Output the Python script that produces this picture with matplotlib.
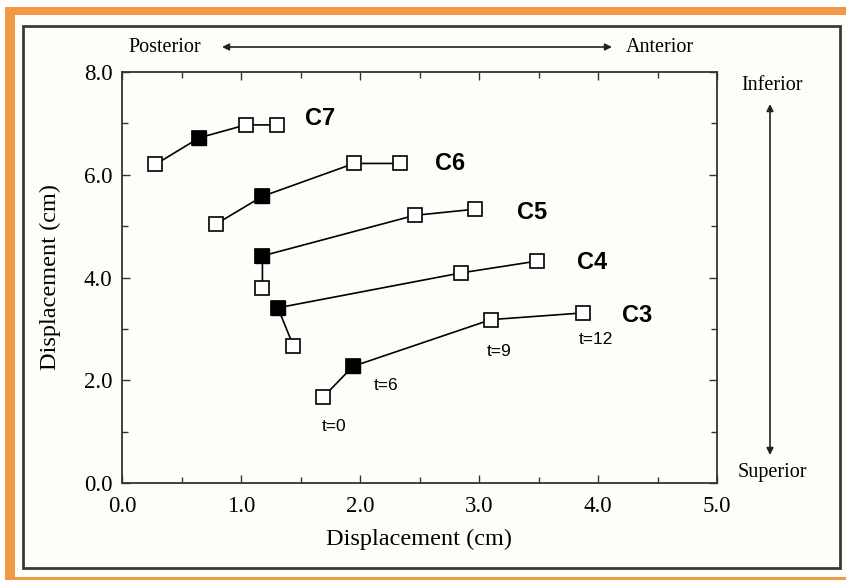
import numpy as np
import matplotlib
matplotlib.use('Agg')
import matplotlib.pyplot as plt
from matplotlib.patches import Rectangle
from matplotlib.ticker import MultipleLocator, FormatStrFormatter

# vertebra paths, points at t=0, 6, 9, 12 (filled marker = t=6)
levels = ['C7', 'C6', 'C5', 'C4', 'C3']
x_vals = [
    [0.28, 0.65, 1.04, 1.30],
    [0.79, 1.18, 1.95, 2.34],
    [1.18, 1.18, 2.46, 2.97],
    [1.44, 1.31, 2.85, 3.49],
    [1.69, 1.94, 3.10, 3.87],
]
y_vals = [
    [6.20, 6.72, 6.97, 6.97],
    [5.04, 5.58, 6.22, 6.22],
    [3.80, 4.42, 5.21, 5.33],
    [2.67, 3.41, 4.09, 4.32],
    [1.67, 2.27, 3.18, 3.31],
]
filled_idx = 1

label_x = [1.54, 2.63, 3.32, 3.82, 4.20]
label_y = [7.10, 6.21, 5.27, 4.30, 3.27]

t_labels = ['t=0', 't=6', 't=9', 't=12']
t_x = [1.78, 2.22, 3.17, 3.98]
t_y = [1.10, 1.90, 2.55, 2.80]

W, H = 846, 580
fig = plt.figure(figsize=(W / 100, H / 100), dpi=100, facecolor='white')


def fx(px):
    return px / W


def fy(py):
    return 1 - py / H


# orange border and frame (behind the axes)
fig.patches.append(Rectangle((fx(5), 0), 1, fy(7), transform=fig.transFigure,
                             facecolor='#f39847', edgecolor='none', zorder=-3))
fig.patches.append(Rectangle((fx(15), fy(577)), 1, fy(15) - fy(577),
                             transform=fig.transFigure, facecolor='#fdfdf9',
                             edgecolor='none', zorder=-2))
fig.patches.append(Rectangle((fx(23), fy(568)), fx(840) - fx(23), fy(26) - fy(568),
                             transform=fig.transFigure, facecolor='none',
                             edgecolor='#3a3a3a', linewidth=2.0, zorder=-1))

ax = fig.add_axes([fx(122), fy(483), fx(717) - fx(122), fy(72) - fy(483)])
ax.set_facecolor('none')

for xs, ys in zip(x_vals, y_vals):
    ax.plot(xs, ys, color='black', linewidth=1.2, zorder=2)
    ax.plot(xs, ys, linestyle='none', marker='s', markersize=9.5,
            markerfacecolor='white', markeredgecolor='black',
            markeredgewidth=1.2, zorder=3)
    ax.plot(xs[filled_idx], ys[filled_idx], linestyle='none', marker='s',
            markersize=9.5, markerfacecolor='black', markeredgecolor='black',
            zorder=4)

for name, lx, ly in zip(levels, label_x, label_y):
    ax.text(lx, ly, name, fontsize=17, fontweight='bold',
            family='Liberation Sans', va='center', ha='left')

for lab, tx, ty in zip(t_labels, t_x, t_y):
    ax.text(tx, ty, lab, fontsize=12.5, family='Liberation Sans',
            va='center', ha='center')

serif = 'Liberation Serif'
ax.set_xlim(0, 5)
ax.set_ylim(0, 8)
ax.xaxis.set_major_locator(MultipleLocator(1.0))
ax.xaxis.set_minor_locator(MultipleLocator(0.5))
ax.yaxis.set_major_locator(MultipleLocator(2.0))
ax.yaxis.set_minor_locator(MultipleLocator(1.0))
ax.xaxis.set_major_formatter(FormatStrFormatter('%.1f'))
ax.yaxis.set_major_formatter(FormatStrFormatter('%.1f'))
ax.tick_params(which='both', direction='in', top=True, right=True,
               width=1.0, color='#333333')
ax.tick_params(which='major', length=6, labelsize=16.5)
ax.tick_params(which='minor', length=4)
ax.tick_params(axis='x', which='major', pad=9)
ax.tick_params(axis='y', which='major', pad=7)
for lab in ax.get_xticklabels() + ax.get_yticklabels():
    lab.set_family(serif)
for sp in ax.spines.values():
    sp.set_linewidth(1.3)
    sp.set_color('#333333')

ax.set_xlabel('Displacement (cm)', fontsize=17.5, family=serif, labelpad=9)
ax.set_ylabel('Displacement (cm)', fontsize=17.5, family=serif, labelpad=16)

# direction hints
fig.text(fx(165), fy(47), 'Posterior', fontsize=14.5, family=serif,
         ha='center', va='center')
fig.text(fx(660), fy(47), 'Anterior', fontsize=14.5, family=serif,
         ha='center', va='center')
fig.text(fx(772), fy(86), 'Inferior', fontsize=14.5, family=serif,
         ha='center', va='center')
fig.text(fx(772), fy(472), 'Superior', fontsize=14.5, family=serif,
         ha='center', va='center')
arrow = dict(arrowstyle='<|-|>', color='#222222', lw=1.2,
             mutation_scale=10, shrinkA=0, shrinkB=0)
ax.annotate('', xy=(fx(612), fy(47)), xytext=(fx(222), fy(47)),
            xycoords='figure fraction', textcoords='figure fraction',
            arrowprops=arrow, annotation_clip=False)
ax.annotate('', xy=(fx(770), fy(104)), xytext=(fx(770), fy(455)),
            xycoords='figure fraction', textcoords='figure fraction',
            arrowprops=arrow, annotation_clip=False)

fig.savefig('out.png', dpi=100, facecolor=fig.get_facecolor())
